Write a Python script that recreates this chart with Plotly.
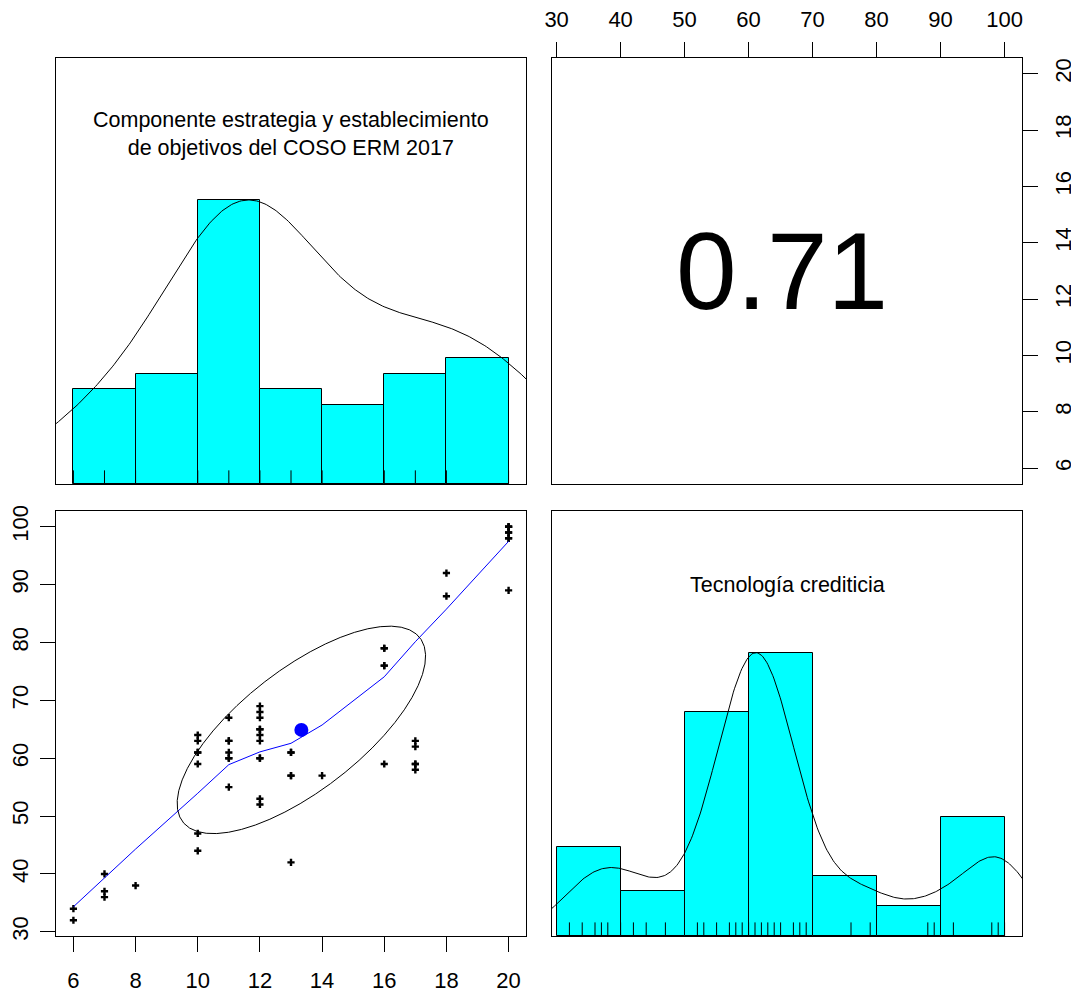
import numpy as np
import plotly.graph_objects as go

# ---------------- data ----------------
var1_label = "Componente estrategia y establecimiento<br>de objetivos del COSO ERM 2017"
var2_label = "Tecnología crediticia"
corr_value = 0.71   # correlation printed in the upper panel

componente = [6, 6,
              7, 7, 7,
              8,
              10, 10, 10, 10, 10, 10, 10,
              11, 11, 11, 11, 11, 11, 11,
              12, 12, 12, 12, 12, 12, 12, 12, 12, 12, 12,
              13, 13, 13, 13, 13,
              14,
              16, 16, 16, 16, 16,
              17, 17, 17, 17, 17,
              18, 18,
              20, 20, 20, 20, 20, 20, 20, 20]
tecnologia = [34, 32,
              40, 37, 36,
              38,
              64, 63, 61, 61, 59, 47, 44,
              67, 63, 63, 61, 60, 60, 55,
              69, 68, 67, 65, 65, 64, 63, 60, 60, 53, 52,
              61, 61, 57, 57, 42,
              57,
              79, 79, 76, 76, 59,
              63, 62, 59, 59, 58,
              92, 88,
              100, 100, 100, 99, 99, 98, 98, 89]

breaks1 = [6, 8, 10, 12, 14, 16, 18, 20]
breaks2 = [30, 40, 50, 60, 70, 80, 90, 100]
ticks1 = [6, 8, 10, 12, 14, 16, 18, 20]
ticks2 = [30, 40, 50, 60, 70, 80, 90, 100]

FONT = "Arial, Liberation Sans, sans-serif"
CYAN = "#00FFFF"
BLUE = "#0000FF"

x1 = np.asarray(componente, float)
x2 = np.asarray(tecnologia, float)


def ext_range(v):
    lo, hi = float(np.min(v)), float(np.max(v))
    d = 0.04 * (hi - lo)
    return [lo - d, hi + d]


def r_hist(v, br):
    br = np.asarray(br, float)
    idx = np.searchsorted(br, v, side="left") - 1
    idx = np.clip(idx, 0, len(br) - 2)
    counts = np.bincount(idx, minlength=len(br) - 1).astype(float)
    return counts / counts.max()


def r_density(v, adjust=1.2, n=512):
    sd = v.std(ddof=1)
    q1, q3 = np.percentile(v, [25, 75])
    bw = 1.06 * min(sd, (q3 - q1) / 1.34) * len(v) ** (-0.2) * adjust
    grid = np.linspace(v.min() - 3 * bw, v.max() + 3 * bw, n)
    d = np.exp(-0.5 * ((grid[:, None] - v[None, :]) / bw) ** 2).sum(1)
    return grid, d / d.max()


def r_lowess(xv, yv, f=2 / 3, iters=3):
    order = np.argsort(xv, kind="stable")
    x = np.asarray(xv, float)[order]
    y = np.asarray(yv, float)[order]
    n = len(x)
    delta = 0.01 * (x[-1] - x[0])
    ns = max(2, min(n, int(f * n + 1e-7)))
    ys = np.zeros(n)
    rw = np.ones(n)
    rng = x[-1] - x[0]

    def lowest(xs, nleft, nright, userw):
        h = max(xs - x[nleft], x[nright] - xs)
        h9, h1 = 0.999 * h, 0.001 * h
        w = np.zeros(n)
        a = 0.0
        j = nleft
        while j < n:
            r = abs(x[j] - xs)
            if r <= h9:
                w[j] = 1.0 if r <= h1 else (1 - (r / h) ** 3) ** 3
                if userw:
                    w[j] *= rw[j]
                a += w[j]
            elif x[j] > xs:
                break
            j += 1
        nrt = j - 1
        if a <= 0:
            return None
        sl = slice(nleft, nrt + 1)
        w[sl] /= a
        if h > 0:
            a = np.sum(w[sl] * x[sl])
            b = xs - a
            c = np.sum(w[sl] * (x[sl] - a) ** 2)
            if np.sqrt(c) > 0.001 * rng:
                b /= c
                w[sl] *= (b * (x[sl] - a) + 1.0)
        return float(np.sum(w[sl] * y[sl]))

    it = 1
    while it <= iters + 1:
        nleft, nright, last, i = 0, ns - 1, -1, 0
        while True:
            if nright < n - 1:
                d1 = x[i] - x[nleft]
                d2 = x[nright + 1] - x[i]
                if d1 > d2:
                    nleft += 1
                    nright += 1
                    continue
            v = lowest(x[i], nleft, nright, it > 1)
            ys[i] = y[i] if v is None else v
            if last < i - 1:
                denom = x[i] - x[last]
                for j in range(last + 1, i):
                    alpha = (x[j] - x[last]) / denom
                    ys[j] = alpha * ys[i] + (1 - alpha) * ys[last]
            last = i
            cut = x[last] + delta
            i = last + 1
            while i < n:
                if x[i] > cut:
                    break
                if x[i] == x[last]:
                    ys[i] = ys[last]
                    last = i
                i += 1
            i = max(last + 1, i - 1)
            if last >= n - 1:
                break
        res = y - ys
        sc = np.mean(np.abs(res))
        if it > iters:
            break
        ar = np.abs(res)
        srt = np.sort(ar)
        m1 = n // 2
        if n % 2 == 0:
            cmad = 3 * (srt[m1] + srt[n - m1 - 1])
        else:
            cmad = 6 * srt[m1]
        if cmad < 1e-7 * sc:
            break
        c9, c1 = 0.999 * cmad, 0.001 * cmad
        rw = np.where(ar <= c1, 1.0, np.where(ar <= c9, (1 - (ar / cmad) ** 2) ** 2, 0.0))
        it += 1
    return x, ys


r1 = ext_range(x1)
r2 = ext_range(x2)
r = corr_value
corr_label = f"{r:.2f}"

fig = go.Figure()

# ---- top-left: histogram of var1 ----
h1 = r_hist(x1, breaks1)
b1 = np.asarray(breaks1, float)
fig.add_trace(go.Bar(x=(b1[:-1] + b1[1:]) / 2, y=h1, width=np.diff(b1),
                     marker=dict(color=CYAN, line=dict(color="black", width=1)),
                     xaxis="x", yaxis="y", showlegend=False, hoverinfo="skip"))
g1, d1 = r_density(x1)
fig.add_trace(go.Scatter(x=g1, y=d1, mode="lines", line=dict(color="black", width=1),
                         xaxis="x", yaxis="y", showlegend=False))
rx, ry = [], []
for v in np.unique(x1):
    rx += [v, v, None]
    ry += [0, 0.048, None]
fig.add_trace(go.Scatter(x=rx, y=ry, mode="lines", line=dict(color="black", width=1),
                         xaxis="x", yaxis="y", showlegend=False))

# ---- bottom-right: histogram of var2 ----
h2 = r_hist(x2, breaks2)
b2 = np.asarray(breaks2, float)
fig.add_trace(go.Bar(x=(b2[:-1] + b2[1:]) / 2, y=h2, width=np.diff(b2),
                     marker=dict(color=CYAN, line=dict(color="black", width=1)),
                     xaxis="x4", yaxis="y4", showlegend=False, hoverinfo="skip"))
g2, d2 = r_density(x2)
fig.add_trace(go.Scatter(x=g2, y=d2, mode="lines", line=dict(color="black", width=1),
                         xaxis="x4", yaxis="y4", showlegend=False))
rx, ry = [], []
for v in np.unique(x2):
    rx += [v, v, None]
    ry += [0, 0.048, None]
fig.add_trace(go.Scatter(x=rx, y=ry, mode="lines", line=dict(color="black", width=1),
                         xaxis="x4", yaxis="y4", showlegend=False))

# ---- top-right: invisible anchor trace ----
fig.add_trace(go.Scatter(x=[r2[0]], y=[r1[0]], mode="markers", marker=dict(opacity=0),
                         xaxis="x2", yaxis="y2", showlegend=False, hoverinfo="skip"))

# ---- bottom-left: scatter, lowess, ellipse ----
fig.add_trace(go.Scatter(x=x1, y=x2, mode="markers",
                         marker=dict(symbol="cross", size=6, color="black"),
                         xaxis="x3", yaxis="y3", showlegend=False))
lx, ly = r_lowess(x1, x2)
fig.add_trace(go.Scatter(x=lx, y=ly, mode="lines", line=dict(color=BLUE, width=1),
                         xaxis="x3", yaxis="y3", showlegend=False))
xm, ym = x1.mean(), x2.mean()
xs, ysd = x1.std(ddof=1), x2.std(ddof=1)
ang = np.arange(52) * 2 * np.pi / 51
th = np.sign(r) / np.sqrt(2)
ex = (np.cos(ang) * np.sqrt(1 + r) * th - np.sin(ang) * np.sqrt(1 - r) * th) * xs + xm
ey = (np.cos(ang) * np.sqrt(1 + r) * th + np.sin(ang) * np.sqrt(1 - r) * th) * ysd + ym
fig.add_trace(go.Scatter(x=ex, y=ey, mode="lines", line=dict(color="black", width=1),
                         xaxis="x3", yaxis="y3", showlegend=False))
fig.add_trace(go.Scatter(x=[xm], y=[ym], mode="markers",
                         marker=dict(symbol="circle", size=14, color=BLUE),
                         xaxis="x3", yaxis="y3", showlegend=False))

# ---- layout (page body has an 8 px margin) ----
OFF = 8
W, H = 1079 - OFF, 995 - OFF
colA = [(56 - OFF) / W, (526 - OFF) / W]
colB = [(552 - OFF) / W, (1022 - OFF) / W]
rowT = [1 - (484 - OFF) / H, 1 - (58 - OFF) / H]
rowB = [1 - (936 - OFF) / H, 1 - (511 - OFF) / H]

frame = dict(showline=True, mirror=True, linecolor="black", linewidth=1,
             showgrid=False, zeroline=False, fixedrange=True, automargin=False)
tickfont = dict(family=FONT, size=22, color="black")


def noticks(**kw):
    d = dict(frame)
    d.update(showticklabels=False, ticks="")
    d.update(kw)
    return d


def withticks(vals, side, angle, standoff, **kw):
    d = dict(frame)
    d.update(tickmode="array", tickvals=vals, ticktext=[str(v) for v in vals],
             ticks="outside", ticklen=15, tickwidth=1, tickcolor="black",
             tickfont=tickfont, side=side, tickangle=angle, ticklabelstandoff=standoff)
    d.update(kw)
    return d


fig.update_layout(
    width=W, height=H, autosize=False,
    margin=dict(l=0, r=0, t=0, b=0),
    paper_bgcolor="white", plot_bgcolor="white",
    bargap=0, barmode="overlay",
    xaxis=noticks(domain=colA, range=r1, anchor="y"),
    yaxis=noticks(domain=rowT, range=[0, 1.5], anchor="x"),
    xaxis2=withticks(ticks2, "top", 0, 6, domain=colB, range=r2, anchor="y2"),
    yaxis2=withticks(ticks1, "right", -90, 7, domain=rowT, range=r1, anchor="x2"),
    xaxis3=withticks(ticks1, "bottom", 0, 10, domain=colA, range=r1, anchor="y3"),
    yaxis3=withticks(ticks2, "left", -90, 3, domain=rowB, range=r2, anchor="x3"),
    xaxis4=noticks(domain=colB, range=r2, anchor="y4"),
    yaxis4=noticks(domain=rowB, range=[0, 1.5], anchor="x4"),
    annotations=[
        dict(text=var1_label, xref="x domain", yref="y domain", x=0.5, y=0.822,
             showarrow=False, font=dict(family=FONT, size=21.5, color="black"),
             xanchor="center", yanchor="middle", align="center"),
        dict(text=var2_label, xref="x4 domain", yref="y4 domain", x=0.5, y=0.826,
             showarrow=False, font=dict(family=FONT, size=21.5, color="black"),
             xanchor="center", yanchor="middle", align="center"),
        dict(text=corr_label, xref="x2 domain", yref="y2 domain", x=0.49, y=0.5,
             showarrow=False, font=dict(family=FONT, size=109, color="black"),
             xanchor="center", yanchor="middle"),
    ],
)

fig.write_html("out.html")
